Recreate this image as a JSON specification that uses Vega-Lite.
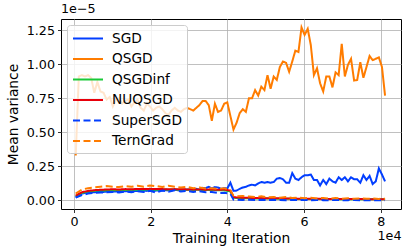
{
"$schema":"https://vega.github.io/schema/vega-lite/v6.json",
"width":340,"height":190,
"autosize":{"type":"none"},
"padding":{"left":61,"top":19,"right":6,"bottom":43},
"background":"white",
"title":{"text":"1e−5","anchor":"start","frame":"group","fontSize":12.7,"font":"DejaVu Sans","fontWeight":"normal","color":"#000","offset":3},
"config":{
 "view":{"stroke":"#000","strokeWidth":1},
 "font":"DejaVu Sans",
 "axis":{"domain":false,"gridColor":"#b0b0b0","gridWidth":0.8,"tickColor":"#000","tickSize":3.5,"tickWidth":0.8,"labelFont":"DejaVu Sans","labelFontSize":12.7,"labelColor":"#000","titleFont":"DejaVu Sans","titleFontSize":13.8,"titleFontWeight":"normal","titleColor":"#000","labelPadding":3},
 "legend":{"orient":"top-left","offset":6,"fillColor":"rgba(255,255,255,0.8)","strokeColor":"#cccccc","cornerRadius":3,"padding":5,"symbolType":"M-1,0H3","symbolSize":225,"symbolStrokeWidth":2,"labelFont":"DejaVu Sans","labelFontSize":13.7,"labelColor":"#000","labelOffset":23,"rowPadding":4.5}
},
"data":{"values":[
{"s":"SGD","x":440,"v":0.022},{"s":"SGD","x":1247,"v":0.04},{"s":"SGD","x":2054,"v":0.05},{"s":"SGD","x":2861,"v":0.055},{"s":"SGD","x":3668,"v":0.058},{"s":"SGD","x":4475,"v":0.06},{"s":"SGD","x":5282,"v":0.06},{"s":"SGD","x":6089,"v":0.062},{"s":"SGD","x":6896,"v":0.063},{"s":"SGD","x":7703,"v":0.062},
{"s":"SGD","x":8510,"v":0.065},{"s":"SGD","x":9317,"v":0.063},{"s":"SGD","x":10124,"v":0.066},{"s":"SGD","x":10931,"v":0.065},{"s":"SGD","x":11738,"v":0.068},{"s":"SGD","x":12545,"v":0.066},{"s":"SGD","x":13352,"v":0.067},{"s":"SGD","x":14159,"v":0.07},{"s":"SGD","x":14966,"v":0.068},{"s":"SGD","x":15773,"v":0.07},
{"s":"SGD","x":16580,"v":0.069},{"s":"SGD","x":17387,"v":0.07},{"s":"SGD","x":18194,"v":0.072},{"s":"SGD","x":19001,"v":0.07},{"s":"SGD","x":19808,"v":0.073},{"s":"SGD","x":20615,"v":0.071},{"s":"SGD","x":21422,"v":0.072},{"s":"SGD","x":22229,"v":0.074},{"s":"SGD","x":23036,"v":0.072},{"s":"SGD","x":23843,"v":0.075},
{"s":"SGD","x":24650,"v":0.073},{"s":"SGD","x":25457,"v":0.074},{"s":"SGD","x":26264,"v":0.078},{"s":"SGD","x":27071,"v":0.075},{"s":"SGD","x":27878,"v":0.08},{"s":"SGD","x":28685,"v":0.077},{"s":"SGD","x":29492,"v":0.079},{"s":"SGD","x":30299,"v":0.082},{"s":"SGD","x":31106,"v":0.078},{"s":"SGD","x":31913,"v":0.085},
{"s":"SGD","x":32720,"v":0.08},{"s":"SGD","x":33527,"v":0.092},{"s":"SGD","x":34334,"v":0.09},{"s":"SGD","x":35141,"v":0.1},{"s":"SGD","x":35948,"v":0.088},{"s":"SGD","x":36755,"v":0.098},{"s":"SGD","x":37562,"v":0.095},{"s":"SGD","x":38369,"v":0.085},{"s":"SGD","x":39176,"v":0.09},{"s":"SGD","x":39983,"v":0.088},
{"s":"SGD","x":40790,"v":0.13},{"s":"SGD","x":41597,"v":0.07},{"s":"SGD","x":42404,"v":0.072},{"s":"SGD","x":43211,"v":0.085},{"s":"SGD","x":44018,"v":0.095},{"s":"SGD","x":44825,"v":0.1},{"s":"SGD","x":45632,"v":0.11},{"s":"SGD","x":46439,"v":0.115},{"s":"SGD","x":47246,"v":0.11},{"s":"SGD","x":48053,"v":0.125},
{"s":"SGD","x":48860,"v":0.135},{"s":"SGD","x":49667,"v":0.13},{"s":"SGD","x":50474,"v":0.135},{"s":"SGD","x":51281,"v":0.13},{"s":"SGD","x":52088,"v":0.135},{"s":"SGD","x":52895,"v":0.16},{"s":"SGD","x":53702,"v":0.165},{"s":"SGD","x":54509,"v":0.155},{"s":"SGD","x":55316,"v":0.13},{"s":"SGD","x":56123,"v":0.13},
{"s":"SGD","x":56930,"v":0.2},{"s":"SGD","x":57737,"v":0.16},{"s":"SGD","x":58544,"v":0.15},{"s":"SGD","x":59351,"v":0.17},{"s":"SGD","x":60158,"v":0.185},{"s":"SGD","x":60965,"v":0.185},{"s":"SGD","x":61772,"v":0.19},{"s":"SGD","x":62579,"v":0.15},{"s":"SGD","x":63386,"v":0.15},{"s":"SGD","x":64193,"v":0.11},
{"s":"SGD","x":65000,"v":0.15},{"s":"SGD","x":65807,"v":0.12},{"s":"SGD","x":66614,"v":0.16},{"s":"SGD","x":67421,"v":0.14},{"s":"SGD","x":68228,"v":0.13},{"s":"SGD","x":69035,"v":0.17},{"s":"SGD","x":69842,"v":0.15},{"s":"SGD","x":70649,"v":0.17},{"s":"SGD","x":71456,"v":0.14},{"s":"SGD","x":72263,"v":0.17},
{"s":"SGD","x":73070,"v":0.155},{"s":"SGD","x":73877,"v":0.155},{"s":"SGD","x":74684,"v":0.13},{"s":"SGD","x":75491,"v":0.185},{"s":"SGD","x":76298,"v":0.15},{"s":"SGD","x":77105,"v":0.18},{"s":"SGD","x":77912,"v":0.12},{"s":"SGD","x":78719,"v":0.14},{"s":"SGD","x":79526,"v":0.235},{"s":"SGD","x":80333,"v":0.19},{"s":"SGD","x":81140,"v":0.14},
{"s":"QSGD","x":440,"v":0.33},{"s":"QSGD","x":1247,"v":0.91},{"s":"QSGD","x":2054,"v":0.92},{"s":"QSGD","x":2861,"v":0.91},{"s":"QSGD","x":3668,"v":0.92},{"s":"QSGD","x":4475,"v":0.9},{"s":"QSGD","x":5282,"v":0.79},{"s":"QSGD","x":6089,"v":0.87},{"s":"QSGD","x":6896,"v":0.8},{"s":"QSGD","x":7703,"v":0.79},
{"s":"QSGD","x":8510,"v":0.74},{"s":"QSGD","x":9317,"v":0.76},{"s":"QSGD","x":10124,"v":0.69},{"s":"QSGD","x":10931,"v":0.74},{"s":"QSGD","x":11738,"v":0.75},{"s":"QSGD","x":12545,"v":0.71},{"s":"QSGD","x":13352,"v":0.73},{"s":"QSGD","x":14159,"v":0.74},{"s":"QSGD","x":14966,"v":0.69},{"s":"QSGD","x":15773,"v":0.72},
{"s":"QSGD","x":16580,"v":0.74},{"s":"QSGD","x":17387,"v":0.68},{"s":"QSGD","x":18194,"v":0.66},{"s":"QSGD","x":19001,"v":0.71},{"s":"QSGD","x":19808,"v":0.69},{"s":"QSGD","x":20615,"v":0.66},{"s":"QSGD","x":21422,"v":0.68},{"s":"QSGD","x":22229,"v":0.69},{"s":"QSGD","x":23036,"v":0.67},{"s":"QSGD","x":23843,"v":0.64},
{"s":"QSGD","x":24650,"v":0.63},{"s":"QSGD","x":25457,"v":0.66},{"s":"QSGD","x":26264,"v":0.68},{"s":"QSGD","x":27071,"v":0.66},{"s":"QSGD","x":27878,"v":0.65},{"s":"QSGD","x":28685,"v":0.67},{"s":"QSGD","x":29492,"v":0.68},{"s":"QSGD","x":30299,"v":0.67},{"s":"QSGD","x":31106,"v":0.66},{"s":"QSGD","x":31913,"v":0.68},
{"s":"QSGD","x":32720,"v":0.7},{"s":"QSGD","x":33527,"v":0.73},{"s":"QSGD","x":34334,"v":0.73},{"s":"QSGD","x":35141,"v":0.7},{"s":"QSGD","x":35948,"v":0.585},{"s":"QSGD","x":36755,"v":0.71},{"s":"QSGD","x":37562,"v":0.65},{"s":"QSGD","x":38369,"v":0.66},{"s":"QSGD","x":39176,"v":0.71},{"s":"QSGD","x":39983,"v":0.72},
{"s":"QSGD","x":40790,"v":0.62},{"s":"QSGD","x":41597,"v":0.52},{"s":"QSGD","x":42404,"v":0.57},{"s":"QSGD","x":43211,"v":0.64},{"s":"QSGD","x":44018,"v":0.67},{"s":"QSGD","x":44825,"v":0.65},{"s":"QSGD","x":45632,"v":0.75},{"s":"QSGD","x":46439,"v":0.75},{"s":"QSGD","x":47246,"v":0.81},{"s":"QSGD","x":48053,"v":0.77},
{"s":"QSGD","x":48860,"v":0.835},{"s":"QSGD","x":49667,"v":0.81},{"s":"QSGD","x":50474,"v":0.92},{"s":"QSGD","x":51281,"v":0.82},{"s":"QSGD","x":52088,"v":0.91},{"s":"QSGD","x":52895,"v":0.885},{"s":"QSGD","x":53702,"v":0.98},{"s":"QSGD","x":54509,"v":1.02},{"s":"QSGD","x":55316,"v":1.01},{"s":"QSGD","x":56123,"v":0.945},
{"s":"QSGD","x":56930,"v":1.02},{"s":"QSGD","x":57737,"v":1.1},{"s":"QSGD","x":58544,"v":1.09},{"s":"QSGD","x":59351,"v":1.27},{"s":"QSGD","x":60158,"v":1.215},{"s":"QSGD","x":60965,"v":1.26},{"s":"QSGD","x":61772,"v":1.14},{"s":"QSGD","x":62579,"v":0.92},{"s":"QSGD","x":63386,"v":0.97},{"s":"QSGD","x":64193,"v":0.86},
{"s":"QSGD","x":65000,"v":0.8},{"s":"QSGD","x":65807,"v":0.91},{"s":"QSGD","x":66614,"v":0.91},{"s":"QSGD","x":67421,"v":0.83},{"s":"QSGD","x":68228,"v":0.94},{"s":"QSGD","x":69035,"v":0.92},{"s":"QSGD","x":69842,"v":1.15},{"s":"QSGD","x":70649,"v":0.91},{"s":"QSGD","x":71456,"v":0.995},{"s":"QSGD","x":72263,"v":1.04},
{"s":"QSGD","x":73070,"v":0.88},{"s":"QSGD","x":73877,"v":0.885},{"s":"QSGD","x":74684,"v":1.015},{"s":"QSGD","x":75491,"v":0.9},{"s":"QSGD","x":76298,"v":0.98},{"s":"QSGD","x":77105,"v":1.06},{"s":"QSGD","x":77912,"v":1.03},{"s":"QSGD","x":78719,"v":1.04},{"s":"QSGD","x":79526,"v":1.05},{"s":"QSGD","x":80333,"v":0.98},{"s":"QSGD","x":81140,"v":0.77},
{"s":"QSGDinf","x":440,"v":0.03},{"s":"QSGDinf","x":2054,"v":0.055},{"s":"QSGDinf","x":3668,"v":0.065},{"s":"QSGDinf","x":5282,"v":0.07},{"s":"QSGDinf","x":6896,"v":0.072},{"s":"QSGDinf","x":8510,"v":0.074},{"s":"QSGDinf","x":10124,"v":0.075},{"s":"QSGDinf","x":11738,"v":0.076},{"s":"QSGDinf","x":13352,"v":0.077},{"s":"QSGDinf","x":14966,"v":0.078},
{"s":"QSGDinf","x":16580,"v":0.078},{"s":"QSGDinf","x":18194,"v":0.079},{"s":"QSGDinf","x":19808,"v":0.08},{"s":"QSGDinf","x":21422,"v":0.079},{"s":"QSGDinf","x":23036,"v":0.08},{"s":"QSGDinf","x":24650,"v":0.079},{"s":"QSGDinf","x":26264,"v":0.08},{"s":"QSGDinf","x":27878,"v":0.078},{"s":"QSGDinf","x":29492,"v":0.079},{"s":"QSGDinf","x":31106,"v":0.077},
{"s":"QSGDinf","x":32720,"v":0.078},{"s":"QSGDinf","x":34334,"v":0.076},{"s":"QSGDinf","x":35948,"v":0.077},{"s":"QSGDinf","x":37562,"v":0.075},{"s":"QSGDinf","x":39176,"v":0.074},{"s":"QSGDinf","x":40790,"v":0.066},{"s":"QSGDinf","x":41597,"v":0.02},{"s":"QSGDinf","x":42404,"v":0.018},{"s":"QSGDinf","x":44018,"v":0.017},{"s":"QSGDinf","x":45632,"v":0.016},
{"s":"QSGDinf","x":47246,"v":0.015},{"s":"QSGDinf","x":48860,"v":0.014},{"s":"QSGDinf","x":50474,"v":0.014},{"s":"QSGDinf","x":52088,"v":0.013},{"s":"QSGDinf","x":53702,"v":0.013},{"s":"QSGDinf","x":55316,"v":0.012},{"s":"QSGDinf","x":56930,"v":0.012},{"s":"QSGDinf","x":58544,"v":0.011},{"s":"QSGDinf","x":60158,"v":0.011},{"s":"QSGDinf","x":61772,"v":0.011},
{"s":"QSGDinf","x":63386,"v":0.01},{"s":"QSGDinf","x":65000,"v":0.01},{"s":"QSGDinf","x":66614,"v":0.01},{"s":"QSGDinf","x":68228,"v":0.009},{"s":"QSGDinf","x":69842,"v":0.009},{"s":"QSGDinf","x":71456,"v":0.009},{"s":"QSGDinf","x":73070,"v":0.009},{"s":"QSGDinf","x":74684,"v":0.008},{"s":"QSGDinf","x":76298,"v":0.008},{"s":"QSGDinf","x":77912,"v":0.008},{"s":"QSGDinf","x":79526,"v":0.008},{"s":"QSGDinf","x":81140,"v":0.008},
{"s":"NUQSGD","x":440,"v":0.035},{"s":"NUQSGD","x":2054,"v":0.06},{"s":"NUQSGD","x":3668,"v":0.07},{"s":"NUQSGD","x":5282,"v":0.075},{"s":"NUQSGD","x":6896,"v":0.078},{"s":"NUQSGD","x":8510,"v":0.08},{"s":"NUQSGD","x":10124,"v":0.082},{"s":"NUQSGD","x":11738,"v":0.08},{"s":"NUQSGD","x":13352,"v":0.083},{"s":"NUQSGD","x":14966,"v":0.082},
{"s":"NUQSGD","x":16580,"v":0.084},{"s":"NUQSGD","x":18194,"v":0.083},{"s":"NUQSGD","x":19808,"v":0.085},{"s":"NUQSGD","x":21422,"v":0.084},{"s":"NUQSGD","x":23036,"v":0.083},{"s":"NUQSGD","x":24650,"v":0.082},{"s":"NUQSGD","x":26264,"v":0.083},{"s":"NUQSGD","x":27878,"v":0.082},{"s":"NUQSGD","x":29492,"v":0.081},{"s":"NUQSGD","x":31106,"v":0.08},
{"s":"NUQSGD","x":32720,"v":0.08},{"s":"NUQSGD","x":34334,"v":0.079},{"s":"NUQSGD","x":35948,"v":0.08},{"s":"NUQSGD","x":37562,"v":0.078},{"s":"NUQSGD","x":39176,"v":0.08},{"s":"NUQSGD","x":40790,"v":0.072},{"s":"NUQSGD","x":41597,"v":0.025},{"s":"NUQSGD","x":42404,"v":0.022},{"s":"NUQSGD","x":44018,"v":0.02},{"s":"NUQSGD","x":45632,"v":0.019},
{"s":"NUQSGD","x":47246,"v":0.018},{"s":"NUQSGD","x":48860,"v":0.017},{"s":"NUQSGD","x":50474,"v":0.016},{"s":"NUQSGD","x":52088,"v":0.016},{"s":"NUQSGD","x":53702,"v":0.015},{"s":"NUQSGD","x":55316,"v":0.014},{"s":"NUQSGD","x":56930,"v":0.014},{"s":"NUQSGD","x":58544,"v":0.013},{"s":"NUQSGD","x":60158,"v":0.013},{"s":"NUQSGD","x":61772,"v":0.012},
{"s":"NUQSGD","x":63386,"v":0.012},{"s":"NUQSGD","x":65000,"v":0.011},{"s":"NUQSGD","x":66614,"v":0.011},{"s":"NUQSGD","x":68228,"v":0.011},{"s":"NUQSGD","x":69842,"v":0.01},{"s":"NUQSGD","x":71456,"v":0.01},{"s":"NUQSGD","x":73070,"v":0.01},{"s":"NUQSGD","x":74684,"v":0.01},{"s":"NUQSGD","x":76298,"v":0.009},{"s":"NUQSGD","x":77912,"v":0.009},{"s":"NUQSGD","x":79526,"v":0.009},{"s":"NUQSGD","x":81140,"v":0.009},
{"s":"SuperSGD","x":440,"v":0.02},{"s":"SuperSGD","x":2054,"v":0.04},{"s":"SuperSGD","x":3668,"v":0.05},{"s":"SuperSGD","x":5282,"v":0.055},{"s":"SuperSGD","x":6896,"v":0.058},{"s":"SuperSGD","x":8510,"v":0.06},{"s":"SuperSGD","x":10124,"v":0.062},{"s":"SuperSGD","x":11738,"v":0.058},{"s":"SuperSGD","x":13352,"v":0.065},{"s":"SuperSGD","x":14966,"v":0.06},
{"s":"SuperSGD","x":16580,"v":0.068},{"s":"SuperSGD","x":18194,"v":0.062},{"s":"SuperSGD","x":19808,"v":0.07},{"s":"SuperSGD","x":21422,"v":0.058},{"s":"SuperSGD","x":23036,"v":0.072},{"s":"SuperSGD","x":24650,"v":0.064},{"s":"SuperSGD","x":26264,"v":0.075},{"s":"SuperSGD","x":27878,"v":0.066},{"s":"SuperSGD","x":29492,"v":0.07},{"s":"SuperSGD","x":31106,"v":0.062},
{"s":"SuperSGD","x":32720,"v":0.068},{"s":"SuperSGD","x":34334,"v":0.06},{"s":"SuperSGD","x":35948,"v":0.062},{"s":"SuperSGD","x":37562,"v":0.055},{"s":"SuperSGD","x":39176,"v":0.056},{"s":"SuperSGD","x":40790,"v":0.05},{"s":"SuperSGD","x":41597,"v":0.006},{"s":"SuperSGD","x":42404,"v":0.005},{"s":"SuperSGD","x":44018,"v":0.004},{"s":"SuperSGD","x":45632,"v":0.005},
{"s":"SuperSGD","x":47246,"v":0.003},{"s":"SuperSGD","x":48860,"v":0.004},{"s":"SuperSGD","x":50474,"v":0.003},{"s":"SuperSGD","x":52088,"v":0.004},{"s":"SuperSGD","x":53702,"v":0.003},{"s":"SuperSGD","x":55316,"v":0.002},{"s":"SuperSGD","x":56930,"v":0.003},{"s":"SuperSGD","x":58544,"v":0.002},{"s":"SuperSGD","x":60158,"v":0.003},{"s":"SuperSGD","x":61772,"v":0.002},
{"s":"SuperSGD","x":63386,"v":0.003},{"s":"SuperSGD","x":65000,"v":0.002},{"s":"SuperSGD","x":66614,"v":0.002},{"s":"SuperSGD","x":68228,"v":0.003},{"s":"SuperSGD","x":69842,"v":0.002},{"s":"SuperSGD","x":71456,"v":0.002},{"s":"SuperSGD","x":73070,"v":0.003},{"s":"SuperSGD","x":74684,"v":0.002},{"s":"SuperSGD","x":76298,"v":0.002},{"s":"SuperSGD","x":77912,"v":0.002},{"s":"SuperSGD","x":79526,"v":0.002},{"s":"SuperSGD","x":81140,"v":0.002},
{"s":"TernGrad","x":440,"v":0.05},{"s":"TernGrad","x":2054,"v":0.08},{"s":"TernGrad","x":3668,"v":0.09},{"s":"TernGrad","x":5282,"v":0.095},{"s":"TernGrad","x":6896,"v":0.1},{"s":"TernGrad","x":8510,"v":0.105},{"s":"TernGrad","x":10124,"v":0.1},{"s":"TernGrad","x":11738,"v":0.098},{"s":"TernGrad","x":13352,"v":0.105},{"s":"TernGrad","x":14966,"v":0.1},
{"s":"TernGrad","x":16580,"v":0.108},{"s":"TernGrad","x":18194,"v":0.1},{"s":"TernGrad","x":19808,"v":0.11},{"s":"TernGrad","x":21422,"v":0.105},{"s":"TernGrad","x":23036,"v":0.098},{"s":"TernGrad","x":24650,"v":0.108},{"s":"TernGrad","x":26264,"v":0.1},{"s":"TernGrad","x":27878,"v":0.095},{"s":"TernGrad","x":29492,"v":0.1},{"s":"TernGrad","x":31106,"v":0.09},
{"s":"TernGrad","x":32720,"v":0.095},{"s":"TernGrad","x":34334,"v":0.088},{"s":"TernGrad","x":35948,"v":0.09},{"s":"TernGrad","x":37562,"v":0.085},{"s":"TernGrad","x":39176,"v":0.09},{"s":"TernGrad","x":40790,"v":0.075},{"s":"TernGrad","x":41597,"v":0.035},{"s":"TernGrad","x":42404,"v":0.03},{"s":"TernGrad","x":44018,"v":0.032},{"s":"TernGrad","x":45632,"v":0.028},
{"s":"TernGrad","x":47246,"v":0.025},{"s":"TernGrad","x":48860,"v":0.03},{"s":"TernGrad","x":50474,"v":0.022},{"s":"TernGrad","x":52088,"v":0.025},{"s":"TernGrad","x":53702,"v":0.02},{"s":"TernGrad","x":55316,"v":0.025},{"s":"TernGrad","x":56930,"v":0.018},{"s":"TernGrad","x":58544,"v":0.02},{"s":"TernGrad","x":60158,"v":0.016},{"s":"TernGrad","x":61772,"v":0.02},
{"s":"TernGrad","x":63386,"v":0.015},{"s":"TernGrad","x":65000,"v":0.018},{"s":"TernGrad","x":66614,"v":0.014},{"s":"TernGrad","x":68228,"v":0.017},{"s":"TernGrad","x":69842,"v":0.013},{"s":"TernGrad","x":71456,"v":0.016},{"s":"TernGrad","x":73070,"v":0.012},{"s":"TernGrad","x":74684,"v":0.015},{"s":"TernGrad","x":76298,"v":0.012},{"s":"TernGrad","x":77912,"v":0.014},{"s":"TernGrad","x":79526,"v":0.011},{"s":"TernGrad","x":81140,"v":0.013}
]},
"encoding":{
 "y":{"field":"v","type":"quantitative","scale":{"domain":[-0.063,1.332],"nice":false,"zero":false},"axis":{"values":[0,0.25,0.5,0.75,1,1.25],"format":".2f","title":"Mean variance","titlePadding":6}},
 "color":{"field":"s","type":"nominal","scale":{"domain":["SGD","QSGD","QSGDinf","NUQSGD","SuperSGD","TernGrad"],"range":["#023eff","#ff7c00","#1ac938","#e8000b","#023eff","#ff7c00"]},"legend":{"title":null}},
 "strokeDash":{"field":"s","type":"nominal","scale":{"domain":["SGD","QSGD","QSGDinf","NUQSGD","SuperSGD","TernGrad"],"range":[[1,0],[1,0],[1,0],[1,0],[7,3.5],[7,3.5]]},"legend":{"title":null}}
},
"layer":[
 {"transform":[{"filter":{"field":"s","oneOf":["SGD","QSGD","QSGDinf","NUQSGD"]}}],
  "mark":{"type":"line","strokeWidth":2},
  "encoding":{"x":{"field":"x","type":"quantitative","scale":{"domain":[-3400,85300],"nice":false,"zero":false},"axis":{"values":[0,20000,40000,60000,80000],"labelExpr":"datum.value/10000","title":"Training Iteration","titlePadding":3}}}},
 {"transform":[{"filter":{"field":"s","oneOf":["SuperSGD","TernGrad"]}}],
  "mark":{"type":"line","strokeWidth":2},
  "encoding":{"x":{"field":"x","type":"quantitative","scale":{"domain":[-3400,85300],"nice":false,"zero":false},"axis":{"orient":"bottom","labels":false,"ticks":false,"grid":false,"domain":false,"title":"1e4","titleAnchor":"end","titleFontSize":12.7,"titlePadding":20}}}}
],
"resolve":{"axis":{"x":"independent"}}
}
